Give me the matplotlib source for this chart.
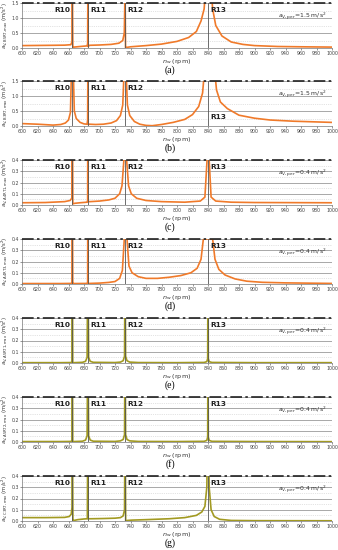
import matplotlib
matplotlib.use("Agg")
import matplotlib.pyplot as plt
import numpy as np

# resonance speeds (rpm)
res_names = ["R10", "R11", "R12", "R13"]
res_speed = [665, 685, 733, 840]

panel_tags = ["(a)", "(b)", "(c)", "(d)", "(e)", "(f)", "(g)"]
ylabels = ["B5RT,max", "B3RT,max", "A4RT1,max", "A4RT3,max", "A5RT1,max", "A5RT2,max", "C3RT,max"]
limits = [1.5, 1.5, 0.4, 0.4, 0.4, 0.4, 0.4]
limit_text = ["1.5", "1.5", "0.4", "0.4", "0.4", "0.4", "0.4"]

# curves (values above the limit are clipped)
x_a = [600, 620, 640, 655, 663, 664.5, 665, 665.6, 667, 675, 684, 684.7, 685, 685.4, 687, 700, 715, 725, 730, 732,
       733, 733.6, 735, 740, 760, 780, 800, 815, 825, 831, 835, 837, 844, 846, 850, 858, 870, 885, 900, 930, 960, 1000]
y_a = [0.08, 0.085, 0.09, 0.095, 0.11, 0.2, 2.0, 0.02, 0.03, 0.05, 0.07, 0.15, 2.0, 0.05, 0.09, 0.1, 0.12, 0.16, 0.25, 0.5,
       2.0, 0.0, 0.02, 0.04, 0.08, 0.13, 0.22, 0.35, 0.55, 0.9, 1.3, 2.0, 2.0, 1.3, 0.75, 0.4, 0.2, 0.12, 0.08, 0.05, 0.04, 0.03]

x_b = [600, 620, 640, 650, 656, 660, 662.5, 664, 666, 667.5, 670, 675, 680, 684, 684.7, 685, 685.4, 687, 695, 705, 715,
       722, 727, 730, 732, 734, 736, 739, 745, 752, 760, 768, 780, 795, 810, 820, 828, 833, 836, 848, 851, 856, 865, 880,
       900, 920, 950, 1000]
y_b = [0.08, 0.06, 0.03, 0.05, 0.1, 0.2, 0.45, 2.0, 2.0, 0.5, 0.25, 0.12, 0.07, 0.06, 0.2, 2.0, 0.05, 0.06, 0.05, 0.06, 0.1,
       0.18, 0.35, 0.7, 2.0, 2.0, 0.7, 0.35, 0.15, 0.06, 0.02, 0.01, 0.05, 0.12, 0.22, 0.38, 0.65, 1.1, 2.0, 2.0, 1.2, 0.8,
       0.58, 0.36, 0.26, 0.2, 0.16, 0.12]

x_c = [600, 630, 655, 662, 664.3, 665, 665.6, 668, 675, 684, 684.7, 685, 685.4, 688, 700, 712, 720, 726, 729, 731.5,
       735, 737.5, 741, 748, 760, 780, 810, 830, 836, 838.8, 841.5, 844, 850, 870, 900, 1000]
y_c = [0.02, 0.022, 0.03, 0.04, 0.06, 1.0, 0.01, 0.015, 0.02, 0.025, 0.04, 1.0, 0.03, 0.03, 0.035, 0.045, 0.06, 0.1, 0.17,
       0.4, 0.4, 0.17, 0.1, 0.06, 0.04, 0.03, 0.025, 0.035, 0.07, 0.4, 0.4, 0.07, 0.035, 0.025, 0.022, 0.02]

x_d = [600, 650, 663, 664.5, 665, 665.5, 667, 684, 684.7, 685, 685.4, 687, 700, 712, 720, 726, 729.5, 732, 735.5, 738,
       742, 750, 760, 775, 790, 805, 818, 826, 831, 834, 846, 849, 854, 862, 875, 890, 910, 940, 1000]
y_d = [0.004, 0.004, 0.005, 0.008, 1.0, 0.004, 0.004, 0.005, 0.008, 1.0, 0.004, 0.005, 0.008, 0.014, 0.022, 0.05, 0.12,
       0.4, 0.4, 0.16, 0.1, 0.065, 0.05, 0.05, 0.06, 0.075, 0.1, 0.14, 0.22, 0.4, 0.4, 0.22, 0.13, 0.08, 0.045, 0.025,
       0.015, 0.01, 0.005]

x_e = [600, 650, 663, 664.5, 665, 665.5, 667, 678, 682, 684, 685, 686, 688, 692, 720, 727, 730.5, 732.3, 733, 733.7,
       735.5, 739, 750, 800, 835, 838.5, 839.6, 840, 840.4, 841.5, 845, 900, 1000]
y_e = [0.003, 0.003, 0.004, 0.008, 1.0, 0.004, 0.003, 0.006, 0.015, 0.05, 1.0, 0.05, 0.015, 0.006, 0.004, 0.008, 0.02,
       0.06, 1.0, 0.06, 0.02, 0.008, 0.004, 0.003, 0.005, 0.012, 0.04, 1.0, 0.04, 0.012, 0.005, 0.003, 0.003]

x_f = [600, 650, 663, 664.5, 665, 665.5, 667, 678, 682, 684, 685, 686, 688, 692, 720, 727, 730.5, 732.3, 733, 733.7,
       735.5, 739, 750, 800, 835, 838.5, 839.6, 840, 840.4, 841.5, 845, 900, 1000]
y_f = [0.004, 0.004, 0.005, 0.01, 1.0, 0.005, 0.004, 0.007, 0.017, 0.055, 1.0, 0.055, 0.017, 0.007, 0.005, 0.01, 0.022,
       0.065, 1.0, 0.065, 0.022, 0.01, 0.005, 0.004, 0.006, 0.014, 0.045, 1.0, 0.045, 0.014, 0.006, 0.004, 0.003]

x_g = [600, 630, 655, 661, 663.5, 664.5, 665, 665.7, 667, 672, 680, 684.3, 685, 685.4, 690, 705, 720, 727, 730.5, 732.3,
       733, 733.8, 736, 742, 760, 790, 810, 825, 832, 836, 838.5, 840, 841.5, 844, 848, 855, 870, 900, 1000]
y_g = [0.03, 0.03, 0.032, 0.04, 0.06, 0.12, 1.0, 0.0, 0.005, 0.012, 0.018, 0.02, 1.0, 0.02, 0.02, 0.022, 0.025, 0.03,
       0.045, 0.1, 1.0, 0.0, 0.005, 0.008, 0.012, 0.02, 0.03, 0.05, 0.08, 0.13, 0.3, 1.0, 0.3, 0.1, 0.04, 0.015, 0.005,
       0.003, 0.002]

xs = [x_a, x_b, x_c, x_d, x_e, x_f, x_g]
ys = [y_a, y_b, y_c, y_d, y_e, y_f, y_g]
orange = "#F07A2A"
olive = "#A29A22"
colors = [orange, orange, orange, orange, olive, olive, olive]

W, H = 338, 550
fig = plt.figure(figsize=(W / 100, H / 100), dpi=100)

tops = [3, 81, 160, 239, 318, 397, 476]
ax_h = 45
left, right = 22, 332

for i in range(7):
    top = tops[i]
    ax = fig.add_axes([left / W, 1 - (top + ax_h) / H, (right - left) / W, ax_h / H])
    lim = limits[i]
    step = 0.5 if lim > 1 else 0.1
    ax.set_xlim(600, 1000)
    ax.set_ylim(0, lim)
    ax.set_xticks(np.arange(600, 1001, 20))
    ax.set_yticks(np.arange(0, lim + 1e-9, step))
    ax.set_yticks(np.arange(step / 2, lim, step), minor=True)
    ax.yaxis.set_major_formatter(matplotlib.ticker.FormatStrFormatter("%.1f"))
    ax.tick_params(labelsize=3.4, length=1.2, width=0.4, pad=1, colors="#444444")
    ax.tick_params(which="minor", length=0)
    ax.grid(axis="y", which="major", color="#a8a8a8", lw=0.7)
    ax.grid(axis="y", which="minor", color="#c8c8c8", lw=0.5, ls=":")
    for s in ["top", "right"]:
        ax.spines[s].set_visible(False)
    for s in ["left", "bottom"]:
        ax.spines[s].set_color("#777777")
        ax.spines[s].set_linewidth(0.5)

    ax.plot(xs[i], ys[i], color=colors[i], lw=1.2, zorder=2, clip_on=True)
    for r in res_speed:
        ax.axvline(r, color="#555555", lw=0.6, zorder=3)
    ax.axhline(lim, color="#222222", lw=1.2, ls=(0, (7, 2, 1.5, 2)), zorder=4, clip_on=False)

    # resonance labels
    for name, r in zip(res_names, res_speed):
        yy = 0.84
        ha = "left"
        xx = r + 3
        if name == "R10":
            ha = "right"
            xx = r - 3
        if name == "R13" and i == 1:
            yy = 0.2
        ax.text(xx, yy * lim, name, fontsize=5.3, fontweight="bold", ha=ha, va="center", color="#222222", zorder=5)

    ax.text(993, 0.7 * lim, r"$a_{\mathrm{V,per}}$=" + limit_text[i] + r" m/s$^2$", fontsize=4.4,
            ha="right", va="center", color="#333333", zorder=5)
    ax.set_ylabel(r"$a_{\mathrm{V," + ylabels[i] + r"}}$ (m/s$^2$)", fontsize=3.8, labelpad=1.5, color="#333333")
    ax.set_xlabel(r"$n_{\mathrm{w}}$ (rpm)", fontsize=4.6, labelpad=0.5, color="#333333")
    fig.text(170 / W, 1 - (top + 67) / H, panel_tags[i], fontsize=7, family="Liberation Serif",
             ha="center", va="center")

fig.savefig("out.png", dpi=100)
